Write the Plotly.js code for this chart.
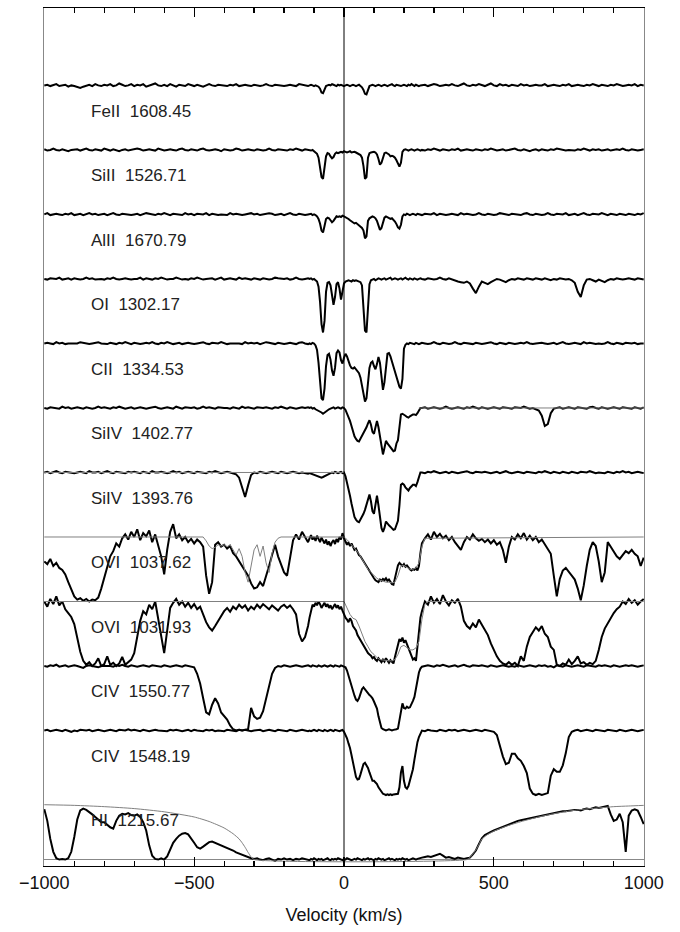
<!DOCTYPE html>
<html><head><meta charset="utf-8">
<script src="https://cdn.plot.ly/plotly-3.0.1.min.js"></script>
<style>body{margin:0;background:#fff}#plot{width:680px;height:932px}</style>
</head><body><div id="plot"></div>
<script>
// velocity grid (km/s)
const vel = [
-1000,-990,-980,-970,-960,-950,-940,-930,-920,-910,
-900,-890,-880,-870,-860,-850,-840,-830,-820,-810,
-800,-790,-780,-770,-760,-750,-740,-730,-720,-710,
-700,-690,-680,-670,-660,-650,-640,-630,-620,-610,
-600,-590,-580,-570,-560,-550,-540,-530,-520,-510,
-500,-490,-480,-470,-460,-450,-440,-430,-420,-410,
-400,-390,-380,-370,-360,-350,-340,-330,-320,-310,
-300,-290,-280,-270,-260,-250,-240,-230,-220,-210,
-200,-190,-180,-170,-160,-150,-140,-130,-120,
-115,-110,-105,-100,-95,-90,-85,-80,-75,-70,
-65,-60,-55,-50,-45,-40,-35,-30,-25,-20,
-15,-10,-5,0,5,10,15,20,25,30,
35,40,45,50,55,60,65,70,75,80,
85,90,95,100,105,110,115,120,125,130,
135,140,145,150,155,160,165,170,175,180,
185,190,195,200,205,210,215,220,225,230,
235,240,245,250,255,
260,270,280,290,300,310,320,330,340,350,
360,370,380,390,400,410,420,430,440,450,
460,470,480,490,500,510,520,530,540,550,
560,570,580,590,600,610,620,630,640,650,
660,670,680,690,700,710,720,730,740,750,
760,770,780,790,800,810,820,830,840,850,
860,870,880,890,900,910,920,930,940,950,
960,970,980,990,1000];

// normalized flux x100 on the velocity grid
const feII1608 = [
100,101,99,100,102,99,100,101,98,100, 99,97,96,98,100,101,99,102,100,99,
101,100,102,99,100,103,101,99,100,102, 99,101,100,102,98,100,101,103,100,99,
101,99,102,100,98,101,100,99,102,100, 99,101,100,98,100,102,100,99,101,100,
100,99,101,100,102,99,100,101,100,99, 101,100,99,100,102,100,99,101,100,100,
99,100,101,100,99,102,101,100,99,
100,101,100,99,100,99,98,95,89,88, 94,99,100,101,100,102,101,100,99,101,
100,101,100,99,100,101,100,99,100,101, 100,99,100,101,99,97,93,87,86,94,
99,100,101,100,99,100,101,100,99,100, 101,100,99,100,101,102,100,99,101,100,
100,99,100,101,100,99,101,100,102,100, 99,101,100,99,100,
100,101,99,100,102,101,99,100,101,100, 102,100,99,101,103,100,99,101,100,102,
100,99,101,103,100,99,102,100,101,99, 101,100,99,102,100,101,99,100,101,100,
100,102,99,100,101,100,99,101,100,102, 99,100,101,100,99,101,100,102,100,99,
101,100,99,101,100,102,101,99,100,101, 100,102,99,101,100];

const siII1526 = [
101,99,100,102,100,99,101,100,98,100, 100,101,99,100,102,100,99,101,100,99,
102,100,99,101,100,98,100,101,99,100, 100,102,101,99,100,101,100,99,102,100,
99,100,101,100,99,101,102,100,99,101, 100,99,101,102,100,99,100,101,100,98,
101,100,99,100,102,101,99,100,101,100, 99,101,100,99,100,102,100,99,101,100,
100,99,101,100,102,100,99,101,100,
100,99,100,98,97,94,88,76,58,55, 72,90,95,94,90,87,89,94,96,95,
96,97,96,98,97,96,97,98,96,97, 97,96,95,94,92,88,75,55,58,88,
95,96,97,97,96,93,86,77,80,89, 95,96,95,93,90,91,90,88,84,78,
74,80,97,100,101,100,99,100,101,100, 99,100,101,100,99,
100,99,101,100,102,100,99,101,100,99, 101,100,102,99,100,101,100,99,101,100,
99,101,100,102,100,99,100,101,99,100, 100,102,100,99,101,100,98,100,101,99,
101,100,99,101,100,102,101,100,99,100, 100,99,101,100,102,100,99,101,100,101,
99,100,101,99,100,101,100,102,100,99, 101,100,99,100,101];

const alII1670 = [
100,102,99,100,101,100,99,101,100,102, 99,100,101,99,100,102,100,101,99,100,
101,99,100,102,100,99,101,100,100,99, 100,101,99,100,102,101,100,99,101,100,
102,100,99,101,100,100,99,102,100,101, 99,101,100,100,102,99,101,100,99,100,
100,99,102,100,101,100,99,100,101,102, 100,101,99,100,100,102,101,99,100,101,
99,100,102,100,99,101,100,99,100,
100,101,99,100,99,97,93,86,75,72, 82,93,95,94,91,88,90,94,97,96,
97,96,98,97,96,95,93,91,89,87, 86,87,85,83,81,79,75,63,66,90,
94,96,97,96,94,90,83,76,79,88, 95,97,96,94,93,94,92,89,85,80,
78,84,97,100,99,101,100,99,100,101, 100,99,101,100,99,
99,101,100,100,102,99,101,100,99,100, 101,100,99,102,100,101,100,99,100,102,
100,99,101,100,99,100,102,101,100,99, 101,100,100,99,101,102,100,99,101,100,
99,100,102,100,99,101,100,100,102,99, 100,101,99,100,102,100,99,101,100,100,
102,100,99,101,100,99,101,100,99,101, 100,99,101,100,102];

const oI1302 = [
100,99,101,100,100,102,99,100,101,99, 101,100,99,100,102,100,101,99,100,100,
99,101,100,102,100,99,100,101,100,99, 100,100,102,99,101,100,99,101,100,102,
101,99,100,100,102,101,99,100,99,101, 100,102,101,99,100,100,101,99,100,102,
99,100,101,100,99,102,100,101,100,99, 101,100,99,101,100,99,100,102,101,100,
100,101,99,100,102,100,99,100,101,
100,101,99,100,98,96,88,65,30,17, 35,80,94,95,90,75,60,72,92,95,
85,68,78,93,96,97,98,97,96,98, 97,98,97,96,95,90,62,20,17,50,
92,98,99,100,98,99,101,100,99,100, 101,99,100,100,102,99,100,101,100,99,
100,101,99,100,102,100,99,101,100,99, 101,100,99,100,101,
100,99,101,100,99,100,102,100,99,101, 99,97,96,95,94,96,93,85,78,88,
96,94,92,95,98,100,99,97,95,98, 100,99,101,100,99,101,100,99,101,100,
99,101,100,98,100,99,101,100,99,100, 98,94,80,72,90,99,100,98,96,99,
97,95,98,100,99,101,100,99,100,101, 100,99,101,100,99];

const cII1334 = [
100,101,100,99,102,100,101,99,100,100, 99,100,102,101,100,99,100,101,102,100,
100,99,101,100,99,101,100,102,100,99, 101,100,99,100,101,100,102,100,99,101,
100,102,100,99,100,101,99,100,101,100, 99,100,101,102,100,99,101,100,100,102,
101,99,100,100,101,100,99,102,100,101, 100,101,99,100,102,101,100,99,101,100,
99,100,101,100,99,101,102,100,99,
100,99,101,100,97,90,70,38,15,12, 30,65,82,84,75,58,50,62,85,89,
86,74,69,78,84,80,72,66,62,61, 63,60,58,54,47,35,18,10,15,40,
62,70,72,65,60,68,79,70,45,28, 40,68,84,85,80,72,64,56,48,42,
33,30,45,92,98,100,99,101,100,100, 99,101,100,99,100,
101,100,99,100,102,100,99,101,100,99, 100,102,100,99,101,100,100,99,101,100,
99,100,101,102,100,99,101,100,99,101, 100,99,100,101,100,102,100,99,100,101,
101,100,99,100,101,99,100,102,100,99, 100,101,100,99,102,100,101,100,99,100,
99,100,102,100,99,101,100,99,101,100, 100,101,99,100,100];

const siIV1402 = [
100,99,101,100,100,99,102,100,101,99, 100,101,100,99,101,100,99,100,102,100,
101,100,99,101,100,102,100,99,100,101, 99,100,101,100,99,100,101,102,100,99,
100,101,100,99,102,100,99,101,100,100, 101,99,100,102,100,101,100,99,101,100,
100,100,99,101,100,99,102,100,101,100, 99,101,100,100,101,100,99,101,100,102,
100,99,101,100,99,100,101,100,101,
100,101,99,100,98,97,96,95,93,91, 93,95,97,98,99,100,101,99,100,101,
100,99,101,100,97,92,86,80,72,62, 56,52,49,48,52,56,60,65,70,76,
81,74,63,60,72,80,70,55,38,28, 38,49,45,42,40,36,33,34,45,50,
70,90,91,90,88,86,85,87,89,90, 90,89,92,97,100,
100,101,99,100,101,100,99,100,102,100, 99,100,101,100,99,101,100,102,100,99,
101,100,99,100,101,100,99,101,100,100, 99,101,100,100,102,100,99,100,98,96,
88,72,75,92,99,100,101,99,100,101, 100,99,101,100,100,99,101,102,100,99,
101,100,99,100,101,100,99,101,100,100, 99,101,100,99,101];

const siIV1393 = [
100,101,99,100,102,100,99,101,100,100, 99,100,101,100,99,102,100,100,101,99,
100,102,100,99,101,100,100,99,101,100, 101,100,99,101,100,99,102,100,100,101,
100,99,100,102,100,101,99,100,101,100, 99,101,100,100,99,101,100,102,100,99,
100,101,100,99,97,92,75,62,80,96, 100,99,101,100,99,100,101,100,99,101,
100,99,100,101,100,99,100,99,98,
99,98,97,96,95,94,93,93,92,93, 94,95,96,97,99,100,99,101,100,99,
100,101,99,100,94,85,74,64,52,38, 31,27,24,23,27,31,36,42,49,58,
66,55,40,36,52,64,49,30,14,8, 14,24,20,18,16,13,11,12,20,25,
49,81,83,81,77,74,72,76,79,81, 81,79,85,94,100,
100,99,101,100,102,100,99,100,101,99, 101,100,99,100,101,102,100,99,101,100,
100,101,100,99,100,101,99,100,102,100, 99,100,101,100,99,101,100,100,99,101,
100,102,100,99,101,100,99,101,100,99, 101,100,99,101,100,100,102,100,99,100,
100,99,101,100,99,101,100,102,100,101, 99,100,101,100,99];

const oVI1037 = [
62,58,66,55,60,52,49,42,30,18, 8,3,5,1,4,0,3,2,6,20,
38,55,70,78,90,85,98,104,96,108, 100,112,95,106,101,110,92,104,88,70,
42,80,108,120,98,104,95,100,92,97, 90,96,92,85,40,12,30,88,92,85,
88,82,86,75,70,62,55,48,40,28, 20,22,30,24,38,55,72,88,70,58,
45,40,70,95,104,96,108,100,92,
98,103,96,100,94,102,97,92,99,95, 90,96,88,93,86,92,95,89,97,92,
100,96,106,98,94,88,92,86,90,84, 80,82,76,72,70,66,62,58,54,50,
47,44,40,36,33,31,30,34,32,35, 33,36,32,34,30,27,26,35,48,56,
60,57,55,58,54,56,52,50,48,50, 49,52,48,55,75,
90,98,104,96,108,100,105,98,102,95, 100,92,85,80,92,100,96,104,98,94,
97,92,96,90,95,88,92,80,60,85, 100,96,104,98,106,96,102,95,100,92,
96,88,82,74,40,8,35,48,52,45, 40,34,20,2,25,55,80,92,86,62,
30,45,92,85,78,70,66,72,78,75, 80,74,70,55,68];

const oVI1031 = [
100,92,104,96,108,94,100,88,82,76, 65,45,22,8,2,6,0,4,12,0,
3,15,2,5,0,4,14,2,6,10, 20,45,70,85,80,95,88,100,75,45,
20,55,90,98,104,95,100,92,98,90, 96,88,92,80,68,60,55,62,70,78,
85,90,84,92,88,95,90,94,86,92, 88,95,90,96,92,88,94,90,86,92,
95,90,94,88,80,50,38,45,62,
75,88,95,92,98,94,100,96,90,94, 98,92,96,90,94,88,92,96,90,94,
88,92,86,80,75,72,68,74,70,62, 58,55,48,44,40,35,30,26,24,20,
18,16,12,14,10,8,12,9,6,10, 7,12,8,5,9,6,4,14,25,35,
42,38,44,36,40,34,28,24,18,10, 12,8,30,55,75,
85,100,95,108,98,104,96,110,100,94, 102,98,104,92,70,62,58,66,60,72,
64,56,48,35,25,15,8,4,2,6, 2,5,0,15,8,30,45,52,60,55,
62,50,45,30,25,2,0,4,2,10, 3,8,15,4,6,2,5,3,8,25,
45,58,66,75,82,88,92,100,96,104, 98,102,95,100,104];

const cIV1550 = [
100,99,101,100,102,99,100,101,99,100, 101,100,99,97,100,101,100,99,98,100,
100,101,100,99,101,100,102,100,99,101, 100,99,100,101,100,99,101,100,100,99,
101,100,99,100,101,100,99,101,100,99, 98,88,73,50,28,25,40,50,42,28,
22,17,8,2,0,1,0,1,2,35, 22,18,20,30,50,70,88,97,100,99,
101,100,99,100,101,100,99,100,101,
100,99,101,100,100,99,101,100,99,100, 101,100,99,100,101,100,99,101,100,100,
99,101,100,100,98,93,85,75,66,60, 54,48,46,50,58,64,67,64,60,57,
55,53,50,45,40,34,22,10,4,2, 1,0,1,2,1,0,1,1,2,3,
15,30,42,35,34,37,35,36,40,46, 52,65,80,90,96,
99,100,101,100,99,101,100,102,100,99, 100,101,99,100,102,100,99,101,100,100,
101,100,99,101,100,99,100,101,100,99, 100,99,101,100,99,100,101,100,99,101,
100,101,99,100,98,101,100,99,101,100, 99,100,101,100,99,101,100,100,99,101,
100,101,100,99,101,100,99,100,101,100, 101,100,99,100,101];

const cIV1548 = [
100,101,99,100,101,100,99,101,100,98, 100,99,101,100,100,101,99,100,101,100,
99,100,101,100,99,101,100,100,102,100, 101,100,99,101,100,99,100,101,100,100,
100,99,101,100,101,100,99,100,101,99, 101,100,100,99,101,100,101,99,100,100,
99,101,100,100,99,101,100,101,100,99, 100,100,101,99,100,101,100,99,101,100,
100,99,101,100,99,100,101,100,99,
100,99,100,101,100,99,101,100,100,99, 101,100,99,100,101,100,99,101,100,100,
99,100,101,98,93,88,80,73,62,50, 38,28,24,25,32,40,48,50,46,42,
35,28,22,22,20,17,12,8,4,2, 1,0,1,0,1,0,1,1,2,2,
12,35,45,22,12,10,14,22,30,40, 55,70,82,90,96,
100,99,101,100,100,99,101,100,99,101, 100,101,99,100,101,100,99,100,101,100,
99,101,100,100,98,93,75,60,48,50, 64,64,57,53,45,34,10,2,0,2,
0,1,3,30,40,36,36,46,65,90, 98,100,101,99,100,101,100,99,101,100,
100,99,101,100,100,99,101,100,99,100, 101,100,99,100,101];

const hI1215 = [
78,60,32,12,2,0,1,0,2,12, 35,62,76,79,77,74,70,66,62,58,
58,54,50,48,60,68,71,70,72,69, 68,70,66,58,45,22,6,1,0,2,
0,5,16,26,32,37,40,41,39,33, 26,19,17,20,24,27,28,26,24,23,
21,18,16,14,11,9,7,5,3,2, 1,2,0,-1,1,2,0,-2,1,0,
2,0,1,-1,1,0,2,1,0,
-1,1,0,2,0,-1,1,0,1,-1, 0,1,2,0,-1,1,0,1,0,2,
1,0,-1,1,0,2,1,0,-1,0, 1,0,2,1,0,-1,1,0,1,2,
0,1,0,-1,1,0,2,1,0,1, -1,0,1,2,0,1,0,-1,1,0,
1,0,2,1,0,1,-1,0,1,2, 1,0,1,2,3,
3,4,5,4,6,8,9,6,3,4, 2,1,3,2,1,2,3,8,14,24,
33,38,41,43,45,47,48,50,53,55, 57,58,60,61,62,63,65,66,67,68,
69,70,71,72,73,73,74,75,75,76, 76,77,77,76,78,79,78,80,81,80,
81,82,83,70,60,62,71,58,12,68, 76,78,76,66,55];

// fitted models (normalized flux x100)
const oVI1037ModelVel = [-1000,-470,-460,-450,-440,-430,-420,-410,-400,-390,-380,-370,-360,-350,-340,-330,-320,-310,-300,-290,-280,-270,-260,-250,-240,-230,-220,-210,0,10,20,30,40,50,60,70,80,90,100,110,120,130,140,150,160,170,180,190,200,210,220,230,240,250,260,270,1000];
const oVI1037Model = [100,100,94,86,82,84,88,86,88,85,88,80,72,82,70,45,30,55,80,88,70,86,60,45,75,92,98,100,100,96,90,85,80,74,66,58,50,45,40,36,33,31,30,30,29,30,40,55,56,53,50,50,52,60,85,98,100];
const oVI1031ModelVel = [-1000,0,10,20,30,40,50,60,70,80,90,100,110,120,130,140,150,160,170,180,190,200,210,220,230,240,250,260,270,280,1000];
const oVI1031Model = [100,100,90,80,74,72,62,50,38,30,22,18,13,10,9,9,8,8,10,18,30,32,28,25,25,28,38,72,96,100,100];
const hI1215ModelVel = [-1000,-900,-800,-700,-600,-500,-450,-400,-370,-350,-340,-330,-320,-310,-300,410,420,430,440,450,460,480,500,550,600,650,700,750,800,850,900,950,1000];
const hI1215Model = [85,84,82,79,74,66,59,49,40,32,26,19,11,4,0,0,3,9,15,23,32,39,44,53,60,66,71,75,78,80,82,83,84];
const siIV1393ModelVel = [-1000,0];
const siIV1393Model = [100,100];
const siIV1402ModelVel = [250,1000];
const siIV1402Model = [100,100];

const lineLabels = ['FeII\u00a0 1608.45','SiII\u00a0 1526.71','AlII\u00a0 1670.79','OI\u00a0 1302.17','CII\u00a0 1334.53','SiIV\u00a0 1402.77','SiIV\u00a0 1393.76','OVI\u00a0 1037.62','OVI\u00a0 1031.93','CIV\u00a0 1550.77','CIV\u00a0 1548.19','HI\u00a0 1215.67'];

// ---------- drawing ----------
const panels = [
  {flux: feII1608, off: 11},
  {flux: siII1526, off: 10},
  {flux: alII1670, off: 9},
  {flux: oI1302, off: 8},
  {flux: cII1334, off: 7},
  {flux: siIV1402, off: 6, mv: siIV1402ModelVel, mf: siIV1402Model},
  {flux: siIV1393, off: 5, mv: siIV1393ModelVel, mf: siIV1393Model},
  {flux: oVI1037, off: 4, mv: oVI1037ModelVel, mf: oVI1037Model},
  {flux: oVI1031, off: 3, mv: oVI1031ModelVel, mf: oVI1031Model},
  {flux: cIV1550, off: 2},
  {flux: cIV1548, off: 1},
  {flux: hI1215, off: 0, mv: hI1215ModelVel, mf: hI1215Model, smooth: true}
];
const FONT = 'Liberation Sans, Arial, sans-serif';
const traces = [];
const annotations = [];
panels.forEach((p, i) => {
  traces.push({x: vel, y: p.flux.map(f => p.off + f / 100), type: 'scatter', mode: 'lines',
    line: {color: '#000', width: 2}, hoverinfo: 'skip'});
});
panels.forEach(p => {
  if (p.mv) traces.push({x: p.mv, y: p.mf.map(f => p.off + f / 100), type: 'scatter', mode: 'lines',
    line: p.smooth ? {color: '#808080', width: 1, shape: 'spline', smoothing: 0.6} : {color: '#808080', width: 1},
    hoverinfo: 'skip'});
});
panels.forEach((p, i) => {
  annotations.push({x: -852, y: p.off + 0.6, xref: 'x', yref: 'y', text: lineLabels[i], showarrow: false,
    xanchor: 'left', yanchor: 'middle', font: {family: FONT, size: 17, color: '#222'}});
});

const layout = {
  width: 680, height: 932,
  margin: {l: 44, r: 36, t: 8, b: 66},
  paper_bgcolor: '#fff', plot_bgcolor: '#fff',
  showlegend: false,
  xaxis: {
    range: [-1001, 1001], tickmode: 'linear', tick0: 0, dtick: 500,
    ticks: 'inside', ticklen: 9, tickwidth: 1.2, tickcolor: '#000',
    showline: true, linecolor: '#000', linewidth: 1, mirror: 'allticks',
    showgrid: false, zeroline: false,
    minor: {dtick: 100, tick0: 0, ticks: 'inside', ticklen: 5, tickwidth: 1.2, tickcolor: '#000', showgrid: false},
    tickfont: {family: FONT, size: 18, color: '#111'},
    title: {text: 'Velocity (km/s)', font: {family: FONT, size: 18, color: '#111'}, standoff: 16}
  },
  yaxis: {
    range: [-0.1, 13.2], showticklabels: false, ticks: '', showgrid: false,
    zeroline: true, zerolinecolor: '#888', zerolinewidth: 1,
    showline: true, linecolor: '#888', linewidth: 1, mirror: true
  },
  shapes: [{type: 'line', xref: 'x', yref: 'paper', x0: 0, x1: 0, y0: 0, y1: 1, line: {color: '#000', width: 1}}],
  annotations: annotations
};
Plotly.newPlot('plot', traces, layout, {staticPlot: true, displayModeBar: false});
</script>
</body></html>
